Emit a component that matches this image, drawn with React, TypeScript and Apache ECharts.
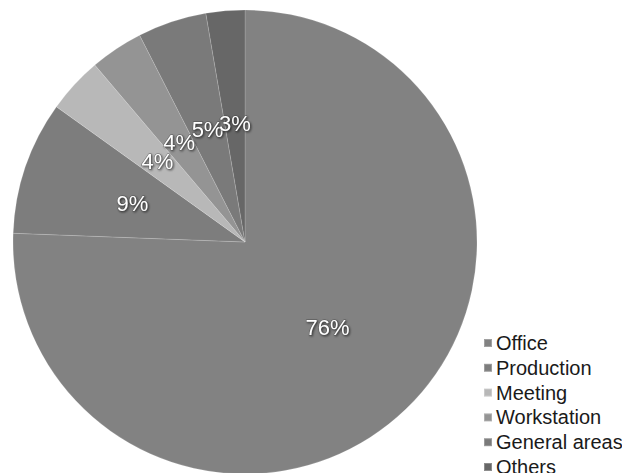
import React, { useEffect, useRef } from "react";
import * as echarts from "echarts";

const categories = ["Office", "Production", "Meeting", "Workstation", "General areas", "Others"];
const values = [75.6, 9.3, 3.9, 3.7, 4.8, 2.7];
const colors = ["#828282", "#7d7d7d", "#b8b8b8", "#949494", "#7a7a7a", "#676767"];

export default function App() {
  const ref = useRef<HTMLDivElement>(null);
  useEffect(() => {
    document.body.style.margin = "0";
    const chart = echarts.init(ref.current!, undefined, { renderer: "svg" });
    chart.setOption({
      animation: false,
      backgroundColor: "#ffffff",
      legend: {
        orient: "vertical",
        left: 483,
        top: 333,
        height: 160,
        padding: 0,
        itemWidth: 8,
        itemHeight: 8,
        itemGap: 4.8,
        icon: "rect",
        data: categories,
        textStyle: {
          fontFamily: "Liberation Sans, Arial, sans-serif",
          fontSize: 20,
          lineHeight: 20,
          color: "#1a1a1a",
          padding: [0, 0, 0, -1],
        },
      },
      series: [
        {
          type: "pie",
          center: [245, 242],
          radius: [0, 232],
          startAngle: 90,
          clockwise: true,
          avoidLabelOverlap: false,
          labelLayout: { hideOverlap: false },
          itemStyle: { borderColor: "rgba(255,255,255,0.25)", borderWidth: 0.6 },
          label: {
            show: true,
            position: "inside",
            fontFamily: "Liberation Sans, Arial, sans-serif",
            fontSize: 22,
            color: "#ffffff",
            textBorderColor: "rgba(60,60,60,0.6)",
            textBorderWidth: 1,
            textShadowColor: "rgba(0,0,0,0.6)",
            textShadowBlur: 2,
            textShadowOffsetX: 1,
            textShadowOffsetY: 1,
            formatter: (p: any) => Math.round(p.percent) + "%",
          },
          labelLine: { show: false },
          emphasis: { disabled: true },
          data: categories.map((name, i) => ({
            name,
            value: values[i],
            itemStyle: { color: colors[i] },
          })),
        },
      ],
    });
    return () => chart.dispose();
  }, []);
  return <div ref={ref} style={{ width: 622, height: 473 }} />;
}
